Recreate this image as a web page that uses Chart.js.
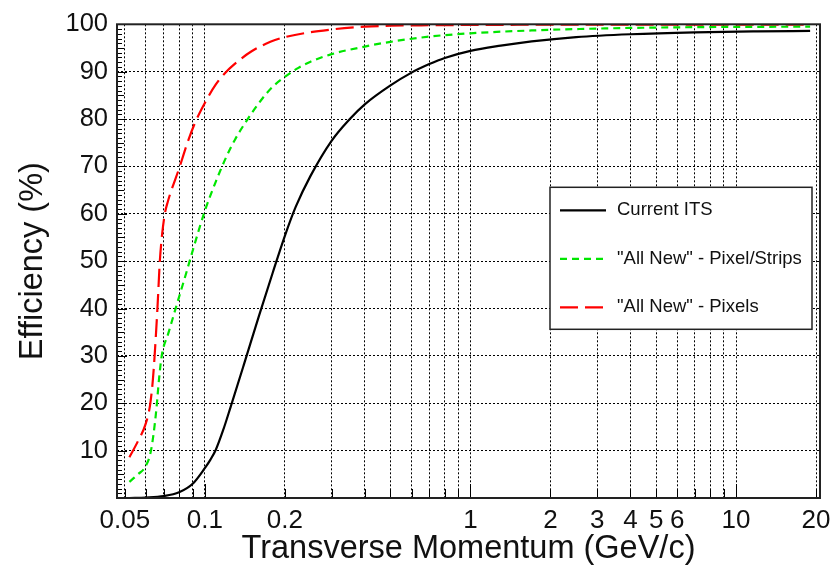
<!DOCTYPE html>
<html>
<head>
<meta charset="utf-8">
<script src="https://cdn.jsdelivr.net/npm/chart.js@4.4.0/dist/chart.umd.min.js"></script>
<style>
  html, body { margin: 0; padding: 0; background: #fff; }
  #wrap { width: 832px; height: 567px; }
</style>
</head>
<body>
<div id="wrap"><canvas id="myChart"></canvas></div>
<script>
// valores (pT en GeV/c, eficiencia en %)
const itsPt  = [0.052, 0.06, 0.07, 0.08, 0.09, 0.1, 0.105, 0.11, 0.117, 0.125, 0.14, 0.16, 0.18, 0.2, 0.22, 0.25, 0.3, 0.35, 0.4, 0.5, 0.6, 0.7, 0.8, 1, 1.3, 1.7, 2.5, 4, 7, 12, 19];
const itsEff = [0, 0.1, 0.4, 1.2, 3.0, 6.3, 8.1, 10.2, 14.2, 19.2, 28, 38.5, 47.5, 55.3, 61.5, 68.0, 75.4, 79.9, 83.1, 87.1, 89.8, 91.6, 92.9, 94.4, 95.5, 96.4, 97.3, 97.9, 98.3, 98.5, 98.6];

const stripsPt  = [0.052, 0.056, 0.0597, 0.0627, 0.0655, 0.0672, 0.0688, 0.073, 0.078, 0.085, 0.09, 0.1, 0.11, 0.12, 0.13, 0.145, 0.165, 0.18, 0.2, 0.225, 0.25, 0.3, 0.4, 0.5, 0.7, 1, 1.7, 3, 7, 19];
const stripsEff = [3.4, 5, 6.6, 10, 18, 25, 30, 34.9, 40.4, 47.4, 52.2, 60.6, 66.8, 71.8, 75.7, 80, 84.4, 86.8, 88.9, 90.8, 92.1, 93.7, 95.3, 96.3, 97.4, 98.1, 98.7, 99.1, 99.4, 99.5];

const pixelsPt  = [0.052, 0.056, 0.06, 0.0622, 0.0637, 0.0647, 0.0663, 0.0677, 0.069, 0.0707, 0.0725, 0.0805, 0.086, 0.092, 0.1, 0.11, 0.12, 0.128, 0.15, 0.1765, 0.2, 0.3, 0.4, 0.5, 0.7, 1.5, 19];
const pixelsEff = [8.6, 12, 15.8, 19.6, 24.8, 30, 40, 50, 55.5, 60, 62.5, 70, 75, 79.3, 83.4, 87.3, 89.9, 91.4, 94.3, 96.3, 97.3, 98.9, 99.5, 99.7, 99.8, 99.9, 99.9];

const seriesNames = ['Current ITS', '"All New" - Pixel/Strips', '"All New" - Pixels'];

// ticks del eje x (los vacios no llevan etiqueta)
const xTickValues = [0.05, 0.06, 0.07, 0.08, 0.09, 0.1, 0.2, 0.3, 0.4, 0.5, 0.6, 0.7, 0.8, 0.9, 1, 2, 3, 4, 5, 6, 7, 8, 9, 10, 20];
const xTickLabels = ['0.05', '', '', '', '', '0.1', '0.2', '', '', '', '', '', '', '', '1', '2', '3', '4', '5', '6', '', '', '', '10', '20'];
const yTickValues = [0, 10, 20, 30, 40, 50, 60, 70, 80, 90, 100];

function toPoints(xs, ys) {
    return xs.map((x, i) => ({ x: x, y: ys[i] }));
}

const FONT = 'Arial, "Liberation Sans", Helvetica, sans-serif';

// marco, ticks menores y leyenda dentro del area
const marcoPlugin = {
    id: 'marco',
    afterDraw(chart) {
        const ctx = chart.ctx;
        const a = chart.chartArea;
        const xs = chart.scales.x;
        const ys = chart.scales.y;
        ctx.save();
        ctx.strokeStyle = '#000';
        ctx.setLineDash([]);

        // ticks menores eje y
        ctx.lineWidth = 1;
        for (let v = 1; v < 100; v++) {
            const py = Math.round(ys.getPixelForValue(v)) + 0.5;
            let len = 5;
            if (v % 10 == 0) len = 10;
            else if (v % 5 == 0) len = 7;
            ctx.beginPath();
            ctx.moveTo(a.left, py);
            ctx.lineTo(a.left + len, py);
            ctx.stroke();
        }
        // ticks eje x
        xTickValues.forEach((v) => {
            const px = Math.round(xs.getPixelForValue(v)) + 0.5;
            const dec = Math.abs(Math.log10(v) - Math.round(Math.log10(v))) < 1e-9;
            const len = dec ? 14 : 9;
            ctx.beginPath();
            ctx.moveTo(px, a.bottom);
            ctx.lineTo(px, a.bottom - len);
            ctx.stroke();
        });

        // marco
        ctx.lineWidth = 2;
        ctx.strokeStyle = '#222';
        ctx.strokeRect(a.left, a.top, a.right - a.left, a.bottom - a.top);

        // leyenda
        const bx = a.right - 270, by = a.top + 163, bw = 262, bh = 142;
        ctx.fillStyle = '#fff';
        ctx.fillRect(bx, by, bw, bh);
        ctx.lineWidth = 1.5;
        ctx.strokeStyle = '#222';
        ctx.strokeRect(bx, by, bw, bh);
        ctx.font = '18.5px ' + FONT;
        ctx.textBaseline = 'middle';
        ctx.textAlign = 'left';
        chart.data.datasets.forEach((ds, i) => {
            const ry = by + 23 + i * 48.5;
            ctx.beginPath();
            ctx.lineWidth = 2.2;
            ctx.strokeStyle = ds.borderColor;
            ctx.setLineDash(ds.borderDash || []);
            ctx.moveTo(bx + 10, ry);
            ctx.lineTo(bx + 56, ry);
            ctx.stroke();
            ctx.setLineDash([]);
            ctx.fillStyle = '#111';
            ctx.fillText(ds.label, bx + 67, ry);
        });
        ctx.restore();
    }
};

const ctx = document.getElementById('myChart');
new Chart(ctx, {
    type: 'line',
    data: {
        datasets: [
            {
                label: seriesNames[0],
                data: toPoints(itsPt, itsEff),
                borderColor: '#000000',
                borderWidth: 2.2,
                pointRadius: 0,
                cubicInterpolationMode: 'monotone'
            },
            {
                label: seriesNames[1],
                data: toPoints(stripsPt, stripsEff),
                borderColor: '#00e600',
                borderWidth: 2.2,
                borderDash: [7, 5],
                pointRadius: 0,
                cubicInterpolationMode: 'monotone'
            },
            {
                label: seriesNames[2],
                data: toPoints(pixelsPt, pixelsEff),
                borderColor: '#ff0000',
                borderWidth: 2.2,
                borderDash: [18, 7],
                pointRadius: 0,
                cubicInterpolationMode: 'monotone'
            }
        ]
    },
    options: {
        responsive: true,
        maintainAspectRatio: false,
        animation: false,
        layout: { padding: { top: 22, right: 12, left: 0, bottom: 0 } },
        plugins: {
            legend: { display: false },
            tooltip: { enabled: false }
        },
        scales: {
            x: {
                type: 'logarithmic',
                min: 0.0467,
                max: 20.7,
                afterBuildTicks: (scale) => {
                    scale.ticks = xTickValues.map(v => ({ value: v }));
                },
                afterFit: (scale) => {
                    scale.height = 69;
                    scale.paddingRight = 0;
                    scale.paddingLeft = 0;
                },
                ticks: {
                    autoSkip: false,
                    maxRotation: 0,
                    padding: 7,
                    color: '#111',
                    font: { size: 26, family: FONT },
                    callback: (value, index) => xTickLabels[index]
                },
                grid: {
                    color: '#000',
                    lineWidth: 1,
                    drawTicks: false
                },
                border: { display: false, dash: [2, 2] },
                title: {
                    display: true,
                    text: 'Transverse Momentum (GeV/c)',
                    color: '#111',
                    font: { size: 32.5, family: FONT },
                    padding: { top: 0, bottom: -2 }
                }
            },
            y: {
                min: 0,
                max: 100,
                afterBuildTicks: (scale) => {
                    scale.ticks = yTickValues.map(v => ({ value: v }));
                },
                afterFit: (scale) => { scale.width = 117; },
                ticks: {
                    padding: 9,
                    color: '#111',
                    font: { size: 25.5, family: FONT },
                    callback: (value) => value == 0 ? '' : String(value)
                },
                grid: {
                    color: (c) => (c.tick && (c.tick.value == 0 || c.tick.value == 100)) ? 'rgba(0,0,0,0)' : '#000',
                    lineWidth: 1,
                    drawTicks: false
                },
                border: { display: false, dash: [2, 2] },
                title: {
                    display: true,
                    text: 'Efficiency (%)',
                    color: '#111',
                    font: { size: 32.5, family: FONT },
                    padding: { top: 14, bottom: 0 }
                }
            }
        }
    },
    plugins: [marcoPlugin]
});
</script>
</body>
</html>
